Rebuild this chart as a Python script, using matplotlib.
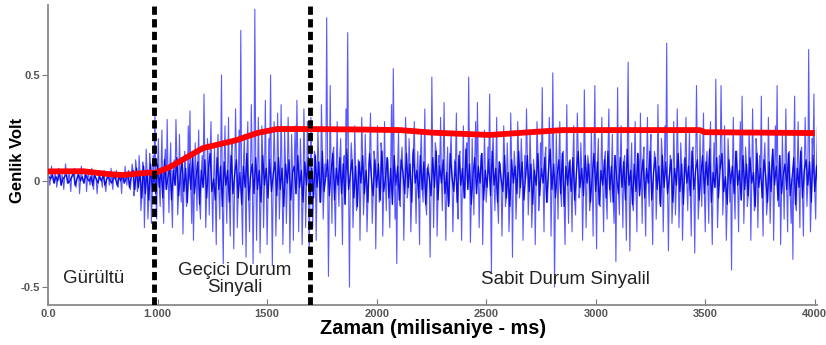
import numpy as np
import matplotlib.pyplot as plt

# Signal, in centivolts. Peak samples every 8 ms from 500 ms,
# with a small "core" sample between each pair of peaks (so 4 ms spacing overall).
noise_cv = [5, -2, 7, 0, 4, -3, 6, 1, 3, -4, 8, -1, 5, -5, 2, 6, -3, 4, -6, 7,
            0, 3, -5, 5, -2, 6, -4, 2, -6, 4, 1, -3, 5, -5, 3, -2, 6, -4, 1, 5,
            -3, 4, -6, 2, 7, -2, 5, -4, 8, -7, 10, -5, 12, -14, 9, -22, 15, -18, 13, -20]
noise_core_cv = [2, 1, 3, -1, 2, 0, 4, -2, 1, 2, 3, -1, 0, 2, 4, -2, 1, 3, 0, 2,
                 -1, 3, 1, 0, 2, -2, 3, 1, -1, 2, 0, 3, -2, 1, 2, 0, -1, 3, 1, -2,
                 2, 0, 3, -1, 1, 4, -3, 2, 5, -4, 6, -3, 4, -8, 7, -6, 5, -9, 8, -5]

transient_cv = [12, 33, -18, 20, -12, 24, -20, 15, 29, -15,
                18, -22, 10, 29, -16, 22, -10, -25, 14, -12,
                26, 33, -20, -28, 18, -14, 24, -18, 12, 41,
                -22, 20, -16, 28, -24, 16, -30, 22, -18, 50,
                -39, 26, -20, 30, -26, 18, -32, 34, -22, 24,
                71, -30, 22, -36, 28, -24, 36, -39, 81, -28,
                30, -34, 26, -22, 38, -30, 20, 50, -40, 28,
                -26, 32, -18, 36, -30, 24, -20, 30, -34, 22,
                -28, 26, 38, -24, 20, -30, 34, -22, 28, -34]
transient_core_cv = [4, -6, 8, -3, 6, -8, 10, -4, 2, 7,
                     -9, 5, -2, 11, -7, 3, 9, -5, 6, -10,
                     8, -4, 12, -6, 2, 9, -11, 5, -3, 10,
                     -8, 6, 13, -5, 1, -9, 11, -4, 7, -12,
                     9, -2, 5, -10, 12, -6, 3, 10, -8, 4,
                     -11, 7, -3, 13, -9, 2, 8, -6, 11, -4,
                     5, -10, 12, -2, 6, -8, 10, -5, 3, 9,
                     -7, 11, -4, 6, -12, 8, -1, 10, -9, 4,
                     7, -6, 12, -3, 5, -10, 9, -2, 11, -7]

steady_cv = [30, -22, 14, -28, 24, -10, 36, -18, 8, 77,
             -45, 45, -20, 16, -26, 28, -12, 20, -30, 12,
             34, 70, -50, 18, -22, 26, -14, 10, -28, 30,
             -16, 22, -24, 8, 32, -20, 14, -32, 26, -10,
             18, -26, 28, -14, 10, -22, 36, 53, -18, -39,
             24, -12, 16, -28, 30, -8, 20, -24, 12, 28,
             -20, 14, -30, 24, -10, 34, -16, 8, -36, 49,
             -22, 18, -26, 12, 30, -14, 37, -28, 16, -10,
             22, -24, 10, 32, -18, 14, -28, 26, -8, 18,
             49, -29, 20, -16, 28, 37, -22, 12, -30, 24,
             -10, 16, 41, -43, 22, -14, 30, -20, 8, -26,
             26, -12, 18, -24, 32, -36, 14, -18, 28, -8,
             20, -28, 12, 34, -16, 24, -22, 10, -30, 28,
             -14, 18, 44, -24, 16, -10, 30, -26, 51, -50,
             22, -18, 28, -12, 14, -30, 36, -20, 10, -24,
             26, -16, 32, -8, 18, -28, 43, -22, 12, -14,
             24, -26, 45, -32, 20, -12, 30, -24, 14, -18,
             34, -10, 22, -20, -38, 44, -16, 26, -22, 12,
             -28, 56, -33, 18, -14, 28, -24, 10, 32, -20,
             16, -26, 30, -12, 22, -30, 14, -18, 36, -10,
             20, -24, 26, 65, -33, 12, -20, 28, -16, 34,
             -22, 18, -28, 10, 30, -14, 24, -26, 16, -34,
             45, -18, 22, -12, 32, -24, 14, -20, 28, -30,
             18, 48, -22, 12, 45, -16, 26, -28, 20, -10,
             -42, 30, -18, 14, -24, 28, 40, -20, 16, -12,
             24, -28, 34, -14, 20, -22, 12, 40, -26, 18,
             -16, 30, -20, 10, -28, 26, 45, -12, -30, 22,
             -18, 34, -24, 14, -20, -37, 40, -14, 28, -22,
             16, -26, 30, -12, 62, -24, 20, 41, -18, 26]
steady_core_cv = [6, -8, 12, -3, 9, -10, 14, -5, 2, 10,
                  -7, 4, 13, -9, 6, -2, 11, -6, 8, -11,
                  15, -4, 3, 10, -8, 7, -12, 9, -1, 12,
                  -6, 5, -10, 13, 2, -7, 10, -3, 8, -9,
                  14, -5, 1, 11, -8, 6, -11, 12, -2, 7,
                  -9, 10, 4, -6, 13, -3, 8, -10, 15, -1,
                  5, -8, 12, -4, 9, -11, 6, 2, -7, 11,
                  -3, 14, -9, 7, -1, 10, -6, 4, -12, 13,
                  2, -5, 9, -10, 12, -2, 6, -8, 15, -4,
                  8, -11, 3, 11, -6, 7, -1, 13, -9, 5,
                  -3, 10, -7, 14, -2, 6, -10, 9, 1, -5,
                  12, -8, 4, -12, 10, -1, 7, -6, 14, -3,
                  9, -9, 2, 12, -5, 8, -11, 5, -2, 13,
                  -7, 6, -1, 11, -10, 4, 15, -4, 8, -8,
                  3, 10, -6, 13, -12, 7, -2, 9, -5, 11,
                  -9, 4, 14, -3, 6, -7, 12, -1, 8, -10,
                  2, 13, -5, 9, -11, 5, -2, 10, -8, 14,
                  -4, 7, -10, 12, 1, -6, 11, -3, 9, -9,
                  15, -2, 5, -11, 8, -5, 13, -7, 3, 10,
                  -8, 6, -1, 14, -9, 4, 11, -4, 7, -12,
                  12, -3, 9, -6, 2, 10, -10, 6, -2, 13,
                  -5, 8, -11, 11, -1, 7, -7, 14, -4, 5,
                  10, -9, 3, 12, -6, 9, -2, 15, -10, 4,
                  -3, 11, -8, 6, 13, -5, 2, -11, 10, -1,
                  7, -6, 14, -2, 5, -9, 12, -4, 8, -7,
                  11, -1, 4, -12, 13, -3, 6, -8, 10, 2,
                  -10, 9, -5, 15, -2, 7, -9, 12, -6, 3,
                  8, -4, 13, -7, 1, 11, -11, 6, -3, 14,
                  -8, 5, 10, -2, 9, -10, 12, -5, 7, -4]

# Red envelope (ms, V)
env_t = [500, 660, 770, 840, 965, 982, 1057, 1102, 1207, 1362, 1454, 1545, 1682,
         1900, 2106, 2252, 2517, 2700, 2850, 3475, 3498, 4000]
env_v = [0.045, 0.046, 0.033, 0.028, 0.040, 0.035, 0.066, 0.093, 0.155, 0.193,
         0.226, 0.245, 0.245, 0.243, 0.240, 0.228, 0.217, 0.230, 0.240, 0.240,
         0.230, 0.226]

# Phase boundaries (ms)
boundaries = [982, 1698]

xticks = [500, 1000, 1500, 2000, 2500, 3000, 3500, 4000]
xticklabels = ['0.0', '1.000', '1500', '2000', '2500', '3000', '3500', '4000']
yticks = [-0.5, 0, 0.5]
yticklabels = ['-0.5', '0', '0.5']

plt.rcParams['font.family'] = ['Liberation Sans', 'DejaVu Sans']

peaks = np.array(noise_cv + transient_cv + steady_cv) / 100.0
core = np.array(noise_core_cv + transient_core_cv + steady_core_cv) / 100.0
signal = np.empty(2 * len(peaks))
signal[0::2] = peaks
signal[1::2] = core
t = 500 + 4 * np.arange(len(signal))

fig = plt.figure(figsize=(8.26, 3.45), dpi=100)
ax = fig.add_axes([48 / 826, 40 / 345, 769 / 826, 300 / 345])

ax.plot(t, signal, color='#0000ff', linewidth=0.8, alpha=0.65, zorder=2)
# dense dark band around zero
ax.plot(t[1::2], core, color='#0000e0', linewidth=1.0, alpha=0.9, zorder=2)
ax.plot(env_t, env_v, color='#ff0000', linewidth=4.2, solid_capstyle='butt', zorder=3)
for b in boundaries:
    ax.axvline(b, color='black', linewidth=3.5, linestyle=(0, (1.7, 0.9)), zorder=4)

ax.set_xlim(500, 4010)
ax.set_ylim(-0.585, 0.83)

for s in ['top', 'right']:
    ax.spines[s].set_visible(False)
for s in ['left', 'bottom']:
    ax.spines[s].set_color('#8a8a8a')
    ax.spines[s].set_linewidth(1.3)

ax.set_xticks(xticks)
ax.set_xticklabels(xticklabels)
ax.set_yticks(yticks)
ax.set_yticklabels(yticklabels)
ax.tick_params(axis='x', direction='in', length=4, color='#777777', labelsize=8,
               labelcolor='#555555', pad=3)
ax.tick_params(axis='y', direction='out', length=4, color='#777777', labelsize=8,
               labelcolor='#555555', pad=2)
for lab in ax.get_xticklabels() + ax.get_yticklabels():
    lab.set_fontweight('bold')

fig.text(18 / 826, 1 - 160 / 345, 'Genlik Volt', rotation=90, fontsize=12,
         fontweight='bold', ha='center', va='center')
fig.text(433 / 826, 1 - 328 / 345, 'Zaman (milisaniye - ms)', fontsize=14.3,
         fontweight='bold', ha='center', va='center')

ax.text(710, -0.458, 'Gürültü', fontsize=13.5, ha='center', va='center', color='#222222')
ax.text(1351, -0.462, 'Geçici Durum\nSinyali', fontsize=13.5, ha='center', va='center',
        color='#222222', linespacing=0.95)
ax.text(2864, -0.467, 'Sabit Durum Sinyalil', fontsize=13.5, ha='center', va='center',
        color='#222222')

plt.savefig('out.png', dpi=100)
